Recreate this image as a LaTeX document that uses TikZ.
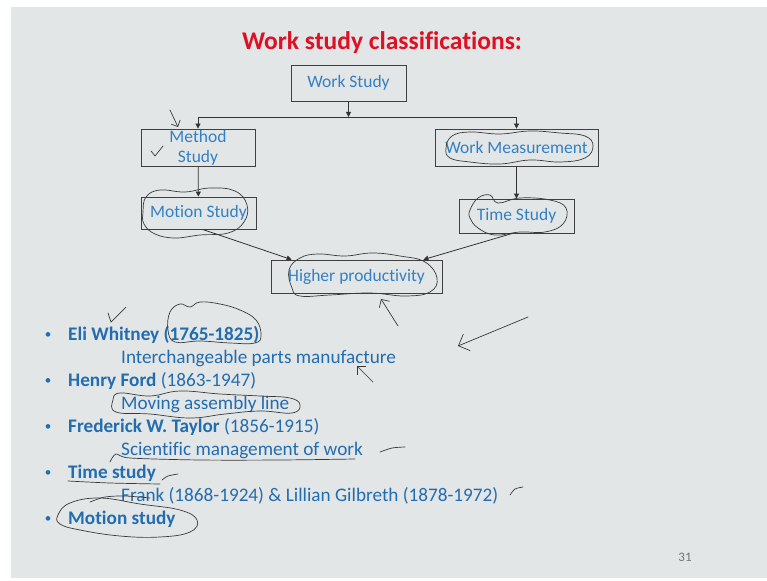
\documentclass[tikz,border=0pt]{standalone}
\usepackage{fontspec}
\setmainfont{Carlito}[Ligatures=CommonOff]
\usetikzlibrary{arrows.meta}

\definecolor{slidegray}{RGB}{227,230,230}
\definecolor{titlered}{RGB}{222,16,36}
\definecolor{textblue}{RGB}{34,108,176}
\definecolor{boxblue}{RGB}{50,128,196}
\definecolor{inkgray}{RGB}{55,58,60}

\begin{document}
\begin{tikzpicture}[x=1pt,y=-1pt,
  box/.style={draw=black!75,line width=0.8pt,text=boxblue,font=\fontsize{17.5}{20}\selectfont,inner sep=0pt},
  link/.style={draw=black!80,line width=0.8pt,-{Triangle[length=5pt,width=5pt]}},
  item/.style={anchor=base west,text=textblue,font=\fontsize{19.2}{23}\selectfont,inner sep=0pt},
  ink/.style={draw=inkgray,line width=0.7pt,line cap=round,line join=round}]
  \useasboundingbox (0,0) rectangle (767,580);
  \fill[white] (0,0) rectangle (767,580);
  \fill[slidegray] (11,7) rectangle (767,578);

  % title and chart
  \node[text=titlered,font=\fontsize{25.5}{30}\selectfont\bfseries] (title) at (382,43) {Work study classifications:};
  \node[box,minimum width=115,minimum height=36] (ws) at (348.5,83) {Work Study};
  \node[box,minimum width=114,minimum height=37,align=center] (ms) at (198,147.5) {Method\\Study};
  \node[box,minimum width=163,minimum height=37] (wm) at (516.5,147.5) {Work Measurement};
  \node[box,minimum width=115,minimum height=32] (mos) at (198.5,213) {Motion Study};
  \node[box,minimum width=115,minimum height=34] (ts) at (516.5,216) {Time Study};
  \node[box,minimum width=171,minimum height=33] (hp) at (356.5,276.5) {Higher productivity};

  \coordinate (split) at (348.5,117);
  \coordinate (lft) at (198,117);
  \coordinate (rgt) at (516.5,117);
  \draw[link] (ws) -- (split);
  \draw[black!80,line width=0.8pt] (lft) -- (rgt);
  \draw[link] (lft) -- (ms);
  \draw[link] (rgt) -- (wm);
  \draw[link] (ms) -- (mos);
  \draw[link] (wm) -- (ts);
  \draw[link] ([xshift=4pt]mos.south) -- ([xshift=21pt]hp.north west);
  \draw[link] ([xshift=-4pt]ts.south) -- ([xshift=-19pt]hp.north east);

  % bullet list
  \foreach \yy/\txt [count=\i] in {340/{\textbf{Eli Whitney (1765-1825)}},
      386/{\textbf{Henry Ford} (1863-1947)},
      432/{\textbf{Frederick W. Taylor} (1856-1915)},
      478/{\textbf{Time study}},
      524/{\textbf{Motion study}}} {
    \node[text=textblue,font=\fontsize{13}{15}\selectfont,inner sep=0pt] (dot\i) at (48,\yy-4) {•};
    \node[item] (li\i) at (68,\yy) {\txt};
  }
  \foreach \yy/\txt [count=\i] in {363/{Interchangeable parts manufacture},
      409/{Moving assembly line},
      455/{Scientific management of work},
      501/{Frank (1868-1924) \& Lillian Gilbreth (1878-1972)}} {
    \node[item] (sub\i) at (121,\yy) {\txt};
  }
  \node[text=black!55,font=\fontsize{13}{15}\selectfont] (page) at (685,557) {31};

  % pen marks
  \draw[ink] plot[smooth cycle,tension=0.7] coordinates {(446,148) (452,136) (470,132) (500,134) (530,131) (560,133) (585,136) (593,146) (585,158) (560,162) (530,160) (500,164) (470,162) (450,158)};
  \draw[ink] plot[smooth cycle,tension=0.7] coordinates {(143,212) (146,197) (160,190) (185,192) (210,188) (235,191) (247,205) (244,222) (228,233) (200,235) (175,238) (155,234) (144,224)};
  \draw[ink] plot[smooth cycle,tension=0.7] coordinates {(470,210) (478,198) (490,195) (498,203) (520,198) (550,200) (566,208) (563,224) (545,232) (520,232) (495,235) (478,228) (470,218)};
  \draw[ink] plot[smooth cycle,tension=0.7] coordinates {(292,288) (289,270) (300,258) (318,254) (345,256) (372,253) (400,256) (425,262) (437,278) (430,292) (405,296) (370,293) (330,295) (300,296)};
  \draw[ink] plot[smooth cycle,tension=0.7] coordinates {(168,330) (170,312) (180,304) (190,307) (200,302) (220,304) (240,310) (256,320) (261,335) (255,343) (230,343) (200,341) (175,342)};
  \draw[ink] plot[smooth cycle,tension=0.7] coordinates {(113,400) (120,393) (150,396) (180,391) (220,394) (260,396) (290,398) (300,405) (292,413) (260,411) (225,414) (190,418) (150,414) (116,412)};
  \draw[ink] plot[smooth cycle,tension=0.7] coordinates {(58,515) (70,503) (100,498) (140,504) (180,510) (197,520) (190,532) (160,537) (120,536) (80,530) (60,524)};
  \draw[ink] plot[smooth] coordinates {(110,462) (116,454) (130,458) (200,460) (280,460) (355,459)};
  \draw[ink] plot[smooth] coordinates {(68,481) (110,483) (160,484)};
  \draw[ink] plot[smooth] coordinates {(162,480) (168,476) (178,474)};
  \draw[ink] plot[smooth] coordinates {(90,502) (105,497) (125,496) (150,498)};
  \draw[ink] plot[smooth] coordinates {(510,495) (515,489) (523,487)};
  \draw[ink] plot[smooth] coordinates {(380,452) (392,448) (405,447)};
  \draw[ink] (108,313) -- (111,322) -- (126,307);
  \draw[ink] (151,151) -- (155,156) -- (163,146);
  \draw[ink,-{Straight Barb[length=5pt]}] (170,110) -- (178,127);
  \draw[ink,-{Straight Barb[length=6pt]}] (398,326) -- (381,299);
  \draw[ink,-{Straight Barb[length=9pt]}] (528,317) -- (458,346);
  \draw[ink,-{Straight Barb[length=6pt]}] (373,382) -- (357,366);
\end{tikzpicture}
\end{document}
